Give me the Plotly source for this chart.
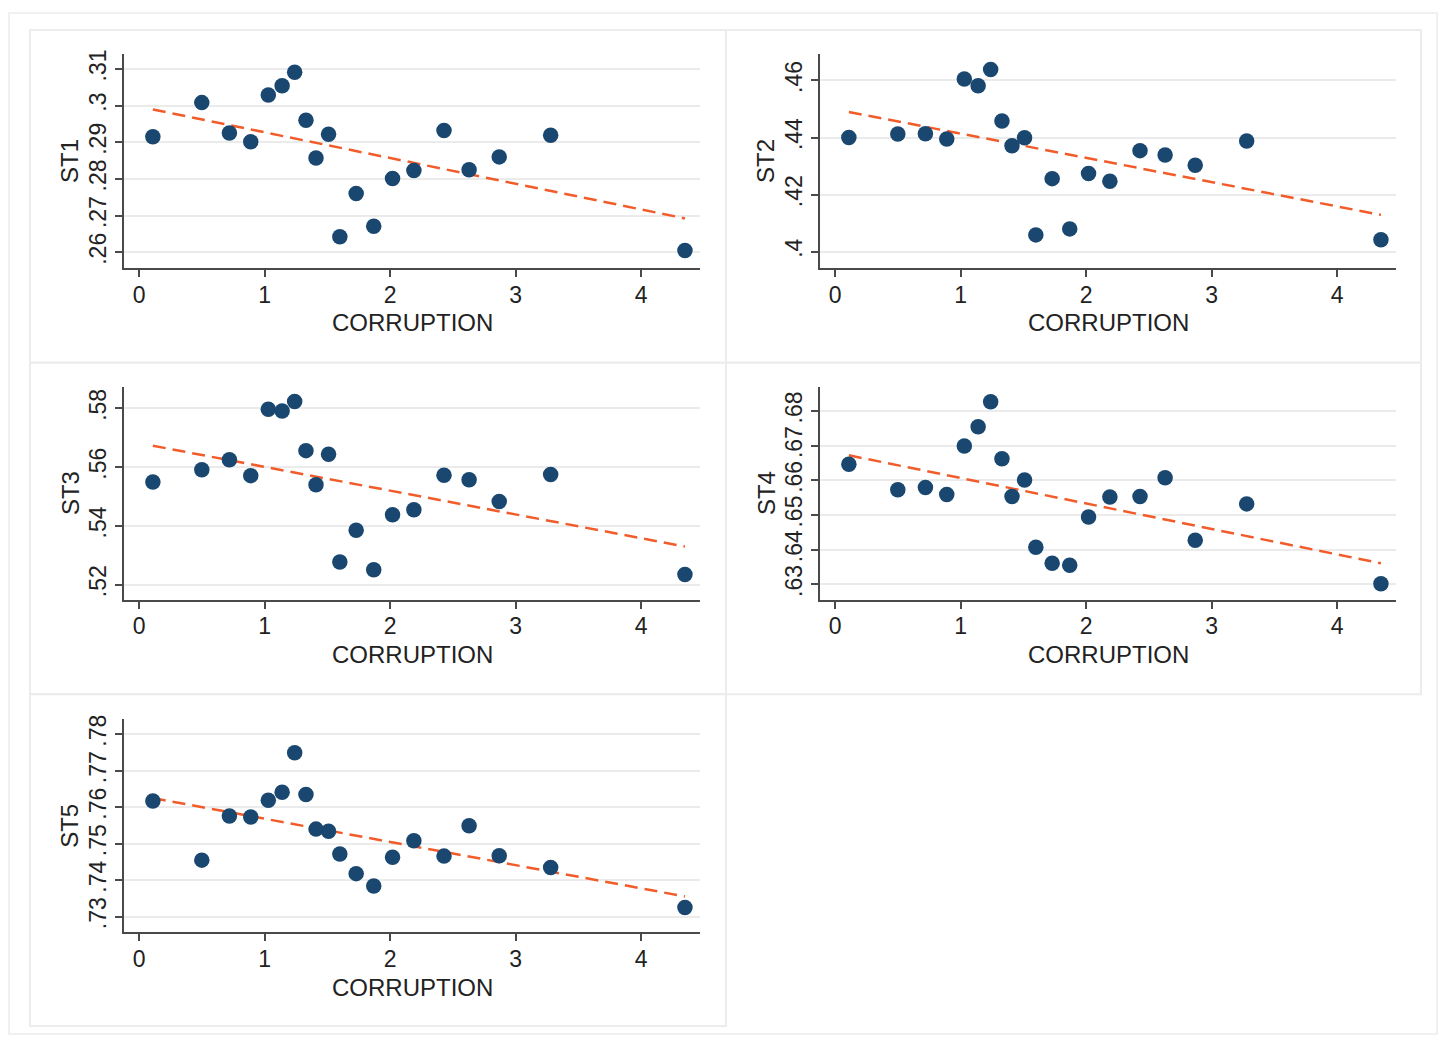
import numpy as np
import plotly.graph_objects as go

# ---------------- data ----------------
corruption = [0.11, 0.50, 0.72, 0.89, 1.03, 1.14, 1.24, 1.33, 1.41, 1.51,
              1.60, 1.73, 1.87, 2.02, 2.19, 2.43, 2.63, 2.87, 3.28, 4.35]
st1 = [.2915, .3008, .2925, .2901, .3029, .3054, .3091, .2960, .2857, .2922,
       .2642, .2760, .2671, .2801, .2823, .2932, .2825, .2860, .2919, .2605]
st2 = [.4400, .4412, .4413, .4395, .4605, .4581, .4638, .4458, .4371, .4399,
       .4059, .4256, .4080, .4274, .4247, .4354, .4339, .4303, .4388, .4042]
st3 = [.5549, .5591, .5625, .5571, .5797, .5791, .5823, .5656, .5540, .5644,
       .5277, .5385, .5251, .5438, .5455, .5572, .5557, .5483, .5575, .5235]
st4 = [.6646, .6573, .6579, .6559, .6699, .6754, .6826, .6662, .6553, .6601,
       .6407, .6361, .6355, .6494, .6552, .6553, .6607, .6427, .6532, .6302]
st5 = [.7617, .7455, .7576, .7573, .7619, .7641, .7749, .7635, .7540, .7534,
       .7472, .7418, .7384, .7463, .7508, .7466, .7549, .7467, .7435, .7325]

x_title = "CORRUPTION"
x_ticks = [0, 1, 2, 3, 4]
st1_ticks = [.26, .27, .28, .29, .30, .31]
st1_labels = [".26", ".27", ".28", ".29", ".3", ".31"]
st2_ticks = [.40, .42, .44, .46]
st2_labels = [".4", ".42", ".44", ".46"]
st3_ticks = [.52, .54, .56, .58]
st3_labels = [".52", ".54", ".56", ".58"]
st4_ticks = [.63, .64, .65, .66, .67, .68]
st4_labels = [".63", ".64", ".65", ".66", ".67", ".68"]
st5_ticks = [.73, .74, .75, .76, .77, .78]
st5_labels = [".73", ".74", ".75", ".76", ".77", ".78"]

series = [
    ("ST1", st1, st1_ticks, st1_labels, [.2557, .3141]),
    ("ST2", st2, st2_ticks, st2_labels, [.3943, .4693]),
    ("ST3", st3, st3_ticks, st3_labels, [.5149, .5874]),
    ("ST4", st4, st4_ticks, st4_labels, [.6256, .6870]),
    ("ST5", st5, st5_ticks, st5_labels, [.7257, .7841]),
]

# ---------------- layout helpers (target pixel -> paper) ----------------
OFFX, OFFY = 8, 10
W, H = 1447 - 2 * 8, 1044 - 2 * 8
def fx(px):
    return (px - OFFX) / W
def fy(py):
    return 1 - (py - OFFY) / H

# plot-area boxes (x0, x1, y_top, y_bottom) in target pixels
boxes = [
    (124, 700, 52, 267),
    (820, 1396, 52, 267),
    (124, 700, 386, 600),
    (820, 1396, 386, 600),
    (124, 700, 720, 934),
]
# panel frames (x0, y0, x1, y1)
frames = [
    (30, 28, 726, 362),
    (726, 28, 1421, 362),
    (30, 362, 726, 695),
    (726, 362, 1421, 695),
    (30, 695, 726, 1028),
]

FONT = "Liberation Sans, Arial, sans-serif"
NAVY = "#1a476f"
FIT = "#f25c2a"
AX = "#4a4a4a"
GRID = "#ebebeb"
TXT = "#222222"

fig = go.Figure()
layout = {}
shapes = []
annotations = []

shapes.append(dict(type="rect", xref="paper", yref="paper",
                   x0=fx(9), x1=fx(1437), y0=fy(1036), y1=fy(11),
                   line=dict(color="#f0f0f0", width=2), layer="below"))
for (a, b, c, d) in frames:
    shapes.append(dict(type="rect", xref="paper", yref="paper",
                       x0=fx(a), x1=fx(c), y0=fy(d), y1=fy(b),
                       line=dict(color="#ececec", width=2),
                       fillcolor="white", layer="below"))

xarr = np.array(corruption)
for i, (name, vals, tv, tt, yr) in enumerate(series):
    k = "" if i == 0 else str(i + 1)
    xa, ya = "x" + k, "y" + k
    yarr = np.array(vals)
    slope, icpt = np.polyfit(xarr, yarr, 1)
    xf = np.array([xarr.min(), xarr.max()])
    fig.add_trace(go.Scatter(x=xf, y=icpt + slope * xf, mode="lines",
                             line=dict(color=FIT, width=2.5, dash="13px,7px"),
                             xaxis=xa, yaxis=ya, showlegend=False,
                             hoverinfo="skip"))
    fig.add_trace(go.Scatter(x=corruption, y=vals, mode="markers",
                             marker=dict(color=NAVY, size=15.5),
                             xaxis=xa, yaxis=ya, showlegend=False, name=name))
    x0, x1, yt, yb = boxes[i]
    layout["xaxis" + k] = dict(
        domain=[fx(x0), fx(x1)], range=[-0.12, 4.47], anchor=ya,
        tickvals=x_ticks, ticktext=[str(t) for t in x_ticks],
        showgrid=False, zeroline=False, showline=True, linecolor=AX, linewidth=2,
        ticks="outside", ticklen=7, tickwidth=2, tickcolor=AX,
        ticklabelstandoff=-2,
        tickfont=dict(family=FONT, size=23, color=TXT),
    )
    layout["yaxis" + k] = dict(
        domain=[fy(yb), fy(yt)], range=yr, anchor=xa,
        tickvals=tv, ticktext=tt, tickangle=-90,
        showgrid=True, gridcolor=GRID, gridwidth=2,
        zeroline=False, showline=True, linecolor=AX, linewidth=2,
        ticks="outside", ticklen=7, tickwidth=2, tickcolor=AX,
        ticklabelstandoff=0,
        tickfont=dict(family=FONT, size=23, color=TXT),
    )
    # axis titles
    annotations.append(dict(text=x_title, xref="paper", yref="paper",
                            x=fx((x0 + x1) / 2), y=fy(yb + 55),
                            xanchor="center", yanchor="middle", showarrow=False,
                            font=dict(family=FONT, size=24, color=TXT)))
    annotations.append(dict(text=name, xref="paper", yref="paper",
                            x=fx(x0 - 54), y=fy((yt + yb) / 2), textangle=-90,
                            xanchor="center", yanchor="middle", showarrow=False,
                            font=dict(family=FONT, size=24, color=TXT)))

fig.update_layout(
    width=W, height=H, margin=dict(l=0, r=0, t=0, b=0),
    paper_bgcolor="white", plot_bgcolor="rgba(0,0,0,0)",
    shapes=shapes, annotations=annotations, **layout,
)
fig.write_html("out.html")
